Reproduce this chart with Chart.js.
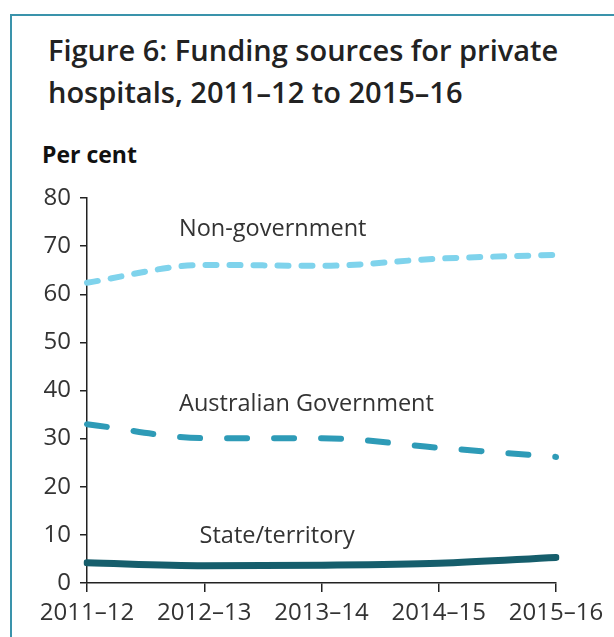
<!DOCTYPE html>
<html>
<head>
<meta charset="utf-8">
<script src="https://cdn.jsdelivr.net/npm/chart.js@4"></script>
<style>
  html, body { margin: 0; padding: 0; background: #fff; overflow: hidden; }
  #frame {
    position: absolute; left: 10px; top: 14px; width: 620px; height: 640px;
    border: 2px solid #3a93ab; box-sizing: border-box;
  }
  #title {
    position: absolute; left: 48px; top: 29px; margin: 0;
    font-family: 'Open Sans', sans-serif; font-weight: 600; font-size: 29px;
    line-height: 42px; color: #222;
  }
  #unit {
    position: absolute; left: 42px; top: 138px; margin: 0;
    font-family: 'Open Sans', sans-serif; font-weight: 700; font-size: 23px; color: #111;
  }
  #wrap { position: absolute; left: 0; top: 0; width: 614px; height: 637px; }
</style>
</head>
<body>
<div id="frame"></div>
<h1 id="title">Figure 6: Funding sources for private<br>hospitals, 2011–12 to 2015–16</h1>
<p id="unit">Per cent</p>
<div id="wrap"><canvas id="myChart" width="614" height="637"></canvas></div>
<script>
const years = ['2011–12', '2012–13', '2013–14', '2014–15', '2015–16'];
const nonGovernment = [62.4, 66.1, 65.9, 67.4, 68.2];
const australianGovernment = [33.0, 30.1, 30.1, 28.1, 26.2];
const stateTerritory = [4.2, 3.6, 3.7, 4.1, 5.3];
const yTicks = [0, 10, 20, 30, 40, 50, 60, 70, 80];

const seriesNames = ['Non-government', 'Australian Government', 'State/territory'];

// series names are written inside the plot, above each line
const lineLabels = {
  id: 'lineLabels',
  afterDatasetsDraw(chart) {
    const c = chart.ctx;
    const x = chart.scales.x, y = chart.scales.y;
    const spots = [[0.785, 73.4], [0.785, 37.2], [0.96, 9.6]];
    c.save();
    c.font = '23.5px "Open Sans"';
    c.fillStyle = '#333';
    c.textBaseline = 'middle';
    seriesNames.forEach((name, i) => {
      c.fillText(name, x.getPixelForValue(spots[i][0]), y.getPixelForValue(spots[i][1]));
    });
    c.restore();
  }
};

const ctx = document.getElementById('myChart');
new Chart(ctx, {
  type: 'line',
  data: {
    labels: years,
    datasets: [
      {
        label: seriesNames[0],
        data: nonGovernment,
        borderColor: '#7fd3ec',
        borderWidth: 6,
        borderDash: [11, 13],
        borderCapStyle: 'round',
        cubicInterpolationMode: 'monotone',
        pointRadius: 0
      },
      {
        label: seriesNames[1],
        data: australianGovernment,
        borderColor: '#2e9bb7',
        borderWidth: 6,
        borderDash: [20, 27],
        borderCapStyle: 'round',
        cubicInterpolationMode: 'monotone',
        pointRadius: 0
      },
      {
        label: seriesNames[2],
        data: stateTerritory,
        borderColor: '#165e6c',
        borderWidth: 7,
        borderCapStyle: 'round',
        cubicInterpolationMode: 'monotone',
        pointRadius: 0
      }
    ]
  },
  options: {
    responsive: false,
    animation: false,
    layout: { padding: { top: 198, right: 58, left: 0, bottom: 0 } },
    plugins: {
      legend: { display: false },
      tooltip: { enabled: false }
    },
    scales: {
      x: {
        offset: false,
        grid: { drawOnChartArea: false, color: '#222', tickLength: 9, lineWidth: 1.5 },
        border: { color: '#222', width: 1.5 },
        ticks: { color: '#333', font: { family: 'Open Sans', size: 24 }, padding: 7, maxRotation: 0 },
        afterFit(axis) { axis.height = 54; }
      },
      y: {
        min: 0,
        max: 80,
        afterBuildTicks(axis) { axis.ticks = yTicks.map(v => ({ value: v })); },
        grid: { drawOnChartArea: false, color: '#222', tickLength: 7, lineWidth: 1.5 },
        border: { color: '#222', width: 1.5 },
        ticks: { color: '#333', font: { family: 'Open Sans', size: 24 }, padding: 9 },
        afterFit(axis) { axis.width = 87; }
      }
    }
  },
  plugins: [lineLabels]
});
</script>
</body>
</html>
